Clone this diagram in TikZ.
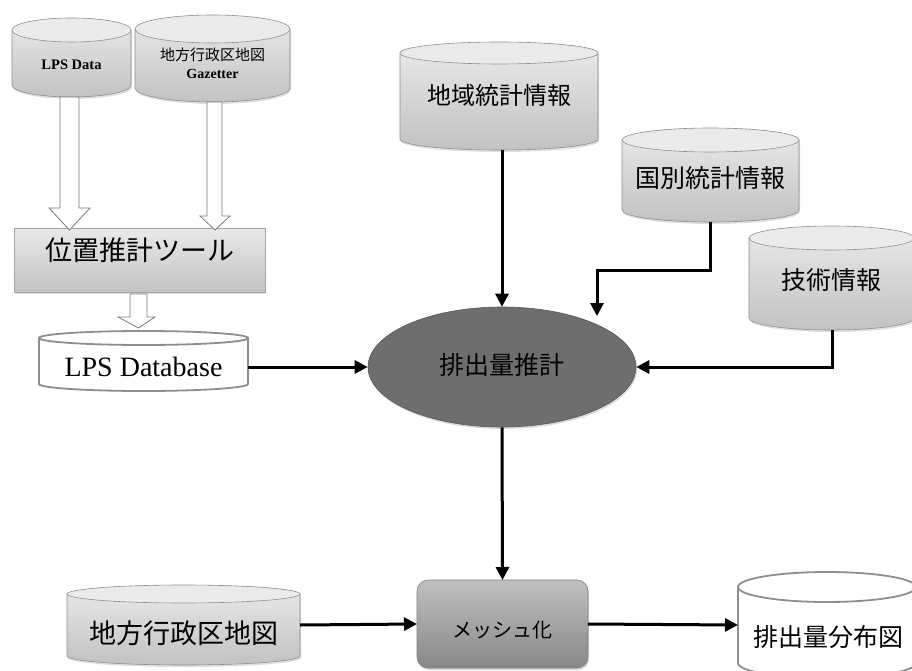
\documentclass[tikz,border=0pt]{standalone}
\usepackage{fontspec}
\setmainfont{Liberation Serif}
\newfontfamily\cjk{Noto Sans CJK JP}
\usetikzlibrary{arrows.meta,shapes.geometric,shadows}
\definecolor{cylhi}{HTML}{EAEAEA}
\definecolor{cyllo}{HTML}{C2C2C2}
\definecolor{cylline}{HTML}{8E8E8E}
\definecolor{holline}{HTML}{7A7A7A}
\definecolor{emitfill}{HTML}{6E6E6E}
\definecolor{meshhi}{HTML}{C0C0C0}
\definecolor{meshlo}{HTML}{888888}
\tikzset{
  gbody/.style={top color=cylhi, bottom color=cyllo, drop shadow={opacity=0.25, shadow xshift=1pt, shadow yshift=-2pt}},
  gtop/.style={draw=cylline, line width=0.6pt, fill=cylhi!95!white},
  wbody/.style={fill=white},
  wtop/.style={draw=cylline, line width=1.8pt, fill=white},
  cj/.style={font={\cjk\fontsize{#1}{#1}\selectfont}, inner sep=0pt},
  lat/.style={font={\fontsize{#1}{#1}\selectfont}, inner sep=0pt},
  latb/.style={font={\bfseries\fontsize{#1}{#1}\selectfont}, inner sep=0pt},
  harrow/.style={fill=white, draw=holline, line width=0.8pt, line join=miter},
  conn/.style={draw=black, line width=3pt, -{Triangle[length=13pt,width=13pt]}},
  ghost/.style={inner sep=0pt, outer sep=0pt, draw=none}
}
% \mycyl{name}{x1}{x2}{ytopcenter}{ry}{ybotcenter}{bodystyle}{topstyle}
\newcommand\mycyl[8]{%
  \pgfmathsetmacro\cylcx{(#2+#3)/2}%
  \pgfmathsetmacro\cylrx{(#3-#2)/2}%
  \pgfmathsetmacro\cylw{#3-#2}%
  \pgfmathsetmacro\cylh{#6-#4+2*#5}%
  \pgfmathsetmacro\cylcy{(#4+#6)/2}%
  \path[#7] (#2,#4) -- (#2,#6) arc[start angle=180,end angle=0,x radius=\cylrx,y radius=#5] -- (#3,#4) arc[start angle=0,end angle=-180,x radius=\cylrx,y radius=#5] -- cycle;
  \draw[#8, fill=none] (#2,#4) -- (#2,#6) arc[start angle=180,end angle=0,x radius=\cylrx,y radius=#5] -- (#3,#4);
  \draw[#8] (\cylcx,#4) ellipse [x radius=\cylrx, y radius=#5];
  \node[ghost, minimum width=\cylw pt, minimum height=\cylh pt] (#1) at (\cylcx,\cylcy) {};
}
\begin{document}
\begin{tikzpicture}[x=1pt,y=-1pt]
\useasboundingbox (0,0) rectangle (912,671);
\clip (0,0) rectangle (912,671);

% ---- top-left sources
\mycyl{lpsdata}{12}{131}{30}{12}{85}{gbody}{gtop}
\node[latb=14.5] (lpsdata-t) at (71.5,65) {LPS Data};
\mycyl{gaz}{135}{290}{29}{14}{88}{gbody}{gtop}
\node[cj=15] (gaz-t1) at (212.5,55) {地方行政区地図};
\node[latb=14] (gaz-t2) at (212.5,74) {Gazetter};

% ---- tool box
\node[ghost, minimum width=251pt, minimum height=64pt, top color=cylhi, bottom color=cyllo, draw=cylline!80!white, line width=0.6pt,
      drop shadow={opacity=0.25, shadow xshift=1pt, shadow yshift=-2pt}] (tool) at (139.5,260) {};
\node[cj=27] (tool-t) at (139.5,250) {位置推計ツール};

% hollow arrows
\draw[harrow] (60,97) -- (79,97) -- (79,208) -- (90,208) -- (69.5,230) -- (49,208) -- (60,208) -- cycle;
\draw[harrow] (207,102) -- (222,102) -- (222,216) -- (230,216) -- (215,230) -- (200,216) -- (207,216) -- cycle;
\draw[harrow] (130,294) -- (147,294) -- (147,317) -- (155,317) -- (138.5,328) -- (118,317) -- (130,317) -- cycle;

% ---- LPS Database
\mycyl{lpsdb}{39}{248}{338}{7}{384}{wbody}{wtop}
\node[lat=28] (lpsdb-t) at (143.5,367) {LPS Database};

% ---- central ellipse
\node[ellipse, minimum width=268pt, minimum height=120pt, inner sep=0pt, fill=emitfill, draw=emitfill!80!black, line width=0.6pt,
      drop shadow={opacity=0.3, shadow xshift=1pt, shadow yshift=-2pt}] (emit) at (502,367) {};
\node[cj=25] (emit-t) at (502,365) {排出量推計};

% ---- statistics sources
\mycyl{chiiki}{400}{598}{53}{11}{139}{gbody}{gtop}
\node[cj=24] (chiiki-t) at (499,95) {地域統計情報};
\mycyl{kuni}{622}{799}{140}{12}{210}{gbody}{gtop}
\node[cj=25] (kuni-t) at (710.5,178) {国別統計情報};
\mycyl{gijutsu}{749}{914}{238}{12}{318}{gbody}{gtop}
\node[cj=25] (gijutsu-t) at (831,280) {技術情報};

% ---- bottom row
\mycyl{chiho}{67}{300}{594}{9}{656}{gbody}{gtop}
\node[cj=27] (chiho-t) at (183.5,633) {地方行政区地図};
\node[ghost, rounded corners=11pt, minimum width=171pt, minimum height=88pt, top color=meshhi, bottom color=meshlo,
      draw=gray, line width=0.6pt, drop shadow={opacity=0.3, shadow xshift=1pt, shadow yshift=-2pt}] (mesh) at (502.5,624) {};
\node[cj=20] (mesh-t) at (502.5,630) {メッシュ化};
\mycyl{bunpu}{738}{916}{587}{15}{663}{wbody}{wtop}
\node[cj=25] (bunpu-t) at (828,637) {排出量分布図};

% ---- connectors
\coordinate (k1) at (597,270);
\coordinate (k2) at (597,316);
\coordinate (g1) at (832,367);
\draw[conn] (lpsdb.east |- emit.west) -- (emit.west);
\draw[conn] (chiiki.south -| emit.north) -- (emit.north);
\draw[conn] (kuni.south) |- (k1) -- (k2);
\draw[conn] (gijutsu.south -| g1) |- (emit.east);
\draw[conn] (emit.south) -- (mesh.north);
\draw[conn] (chiho.east) -- (mesh.west);
\draw[conn] (mesh.east) -- (bunpu.west);
\end{tikzpicture}
\end{document}
